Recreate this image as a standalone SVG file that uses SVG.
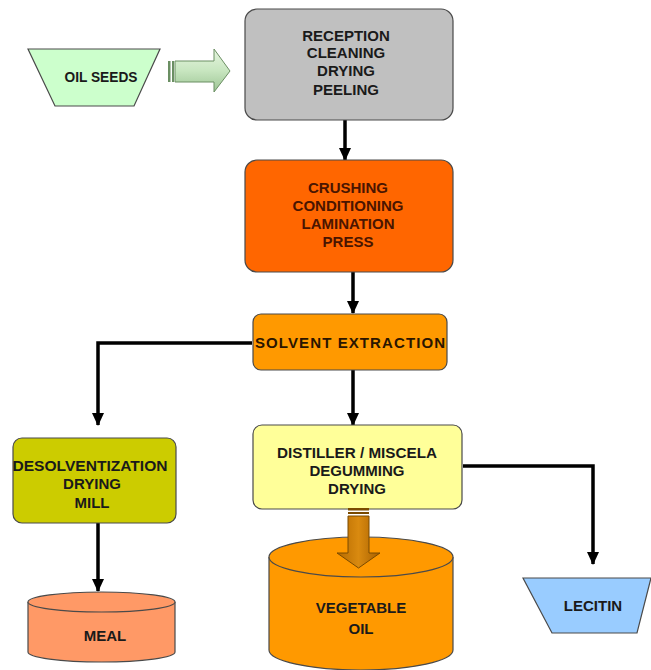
<svg xmlns="http://www.w3.org/2000/svg" width="651" height="670" viewBox="0 0 651 670">
  <defs>
    <marker id="head" markerUnits="userSpaceOnUse" markerWidth="14" markerHeight="14" viewBox="0 0 14 14" refX="12" refY="7" orient="auto">
      <path d="M0,1 L13,7 L0,13 Z" fill="#000"/>
    </marker>
    <linearGradient id="greenArrow" x1="0" y1="0" x2="0" y2="1">
      <stop offset="0" stop-color="#e6f5e0"/>
      <stop offset="0.5" stop-color="#c8e6c0"/>
      <stop offset="1" stop-color="#9cc494"/>
    </linearGradient>
    <linearGradient id="brownArrow" x1="0" y1="0" x2="1" y2="0">
      <stop offset="0" stop-color="#b56a00"/>
      <stop offset="0.5" stop-color="#d98a10"/>
      <stop offset="1" stop-color="#a86000"/>
    </linearGradient>
    <style>
      .box { stroke: #4a4a4a; stroke-width: 1.2; }
      .lbl { font-family: "Liberation Sans", Arial, sans-serif; font-weight: bold; font-size: 15px; text-anchor: middle; fill: #1a1a1a; }
      .dark { fill: #4a1500; }
      .wire { fill: none; stroke: #000; stroke-width: 3.5; marker-end: url(#head); }
    </style>
  </defs>

  <rect width="651" height="670" fill="#ffffff"/>

  <g id="connectors">
    <path class="wire" d="M345,120 V160"/>
    <path class="wire" d="M353,272 V313"/>
    <path class="wire" d="M252,343 H98 V425"/>
    <path class="wire" d="M353,370 V425"/>
    <path class="wire" d="M98,523 V591"/>
    <path class="wire" d="M463,466 H593 V564"/>
  </g>

  <g id="oil-seeds">
    <polygon class="box" points="28,49 160,49 134,106 55,106" fill="#ccffcc"/>
    <text class="lbl" x="101" y="82" font-size="15" textLength="73" lengthAdjust="spacingAndGlyphs">OIL SEEDS</text>
  </g>

  <g id="feed-arrow">
    <rect x="168" y="61" width="2.5" height="21" fill="#6b8f63"/>
    <rect x="172" y="61" width="2" height="21" fill="#6b8f63"/>
    <polygon points="175,61 214,61 214,49 230,71 214,92 214,82 175,82" fill="url(#greenArrow)" stroke="#6b8f63" stroke-width="1"/>
  </g>

  <g id="reception">
    <rect class="box" x="245" y="9" width="208" height="111" rx="12" fill="#c0c0c0"/>
    <text class="lbl" x="346" y="41">RECEPTION</text>
    <text class="lbl" x="346" y="58">CLEANING</text>
    <text class="lbl" x="346" y="76">DRYING</text>
    <text class="lbl" x="346" y="95">PEELING</text>
  </g>

  <g id="crushing">
    <rect class="box" x="245" y="160" width="208" height="112" rx="12" fill="#ff6600"/>
    <text class="lbl dark" x="348" y="193">CRUSHING</text>
    <text class="lbl dark" x="348" y="211">CONDITIONING</text>
    <text class="lbl dark" x="348" y="229">LAMINATION</text>
    <text class="lbl dark" x="348" y="247">PRESS</text>
  </g>

  <g id="solvent-extraction">
    <rect class="box" x="253" y="314" width="194" height="56" rx="8" fill="#ff9900"/>
    <text class="lbl" x="350" y="348" font-size="16" textLength="190" lengthAdjust="spacing" style="fill:#2a1500">SOLVENT EXTRACTION</text>
  </g>

  <g id="desolventization">
    <rect class="box" x="13" y="438" width="163" height="85" rx="9" fill="#cccc00"/>
    <text class="lbl" x="90" y="471" textLength="155" lengthAdjust="spacingAndGlyphs">DESOLVENTIZATION</text>
    <text class="lbl" x="92" y="489">DRYING</text>
    <text class="lbl" x="92" y="508">MILL</text>
  </g>

  <g id="distiller">
    <rect class="box" x="253" y="425" width="209" height="84" rx="9" fill="#ffff99"/>
    <text class="lbl" x="357" y="458" textLength="160" lengthAdjust="spacingAndGlyphs">DISTILLER / MISCELA</text>
    <text class="lbl" x="357" y="476">DEGUMMING</text>
    <text class="lbl" x="357" y="494">DRYING</text>
  </g>

  <g id="meal">
    <path class="box" d="M28,602 V652 A73.5,10 0 0 0 175,652 V602" fill="#ff9966"/>
    <ellipse class="box" cx="101.5" cy="602" rx="73.5" ry="10" fill="#ff9966"/>
    <text class="lbl" x="105" y="641" font-size="16">MEAL</text>
  </g>

  <g id="vegetable-oil">
    <path class="box" d="M269,557 V650 A92,20 0 0 0 453,650 V557" fill="#ff9900"/>
    <ellipse class="box" cx="361" cy="557" rx="92" ry="20" fill="#ff9900"/>
    <text class="lbl" x="361" y="613" font-size="16">VEGETABLE</text>
    <text class="lbl" x="361" y="634" font-size="16">OIL</text>
  </g>

  <g id="oil-arrow">
    <rect x="348" y="508" width="21" height="2.5" fill="#7a4a00"/>
    <rect x="348" y="512" width="21" height="2" fill="#7a4a00"/>
    <polygon points="348,516 369,516 369,553 380,553 358.5,568 337,553 348,553" fill="url(#brownArrow)" stroke="#7a4a00" stroke-width="1"/>
  </g>

  <g id="lecitin">
    <polygon class="box" points="523,578 651,578 637,633 552,633" fill="#99ccff"/>
    <text class="lbl" x="593" y="611">LECITIN</text>
  </g>
</svg>
